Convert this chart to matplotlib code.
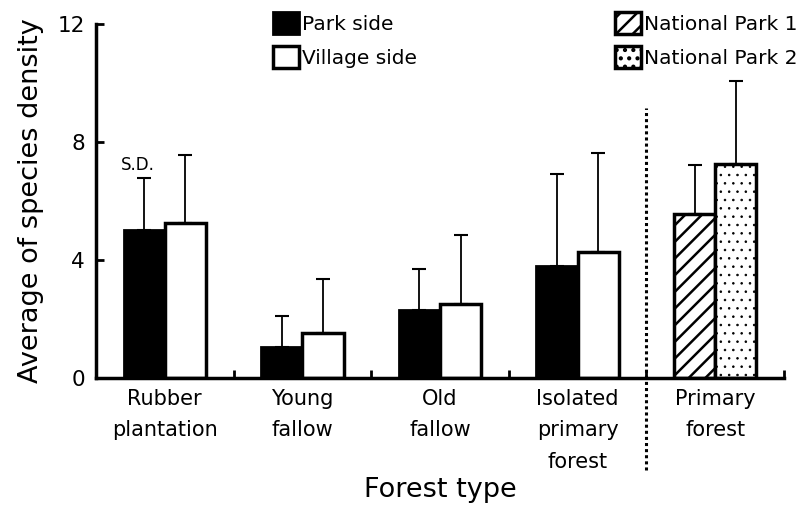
import numpy as np
import matplotlib.pyplot as plt

categories = ['Rubber\nplantation', 'Young\nfallow', 'Old\nfallow', 'Isolated\nprimary\nforest', 'Primary\nforest']
park = [5.03, 1.05, 2.3, 3.8]
park_sd = [1.75, 1.05, 1.4, 3.1]
village = [5.25, 1.52, 2.5, 4.28]
village_sd = [2.31, 1.84, 2.35, 3.35]
national = [5.55, 7.25]
national_sd = [1.67, 2.82]
national_labels = ['National Park 1', 'National Park 2']
national_hatch = ['//', '..']

plt.rcParams['hatch.linewidth'] = 1.8
plt.rcParams['font.family'] = 'DejaVu Sans'

fig = plt.figure(figsize=(8.08, 5.07), dpi=100)
ax = fig.add_axes([96/808, 1-378/507, (784-96)/808, (378-24)/507])

w = 0.3
x = np.arange(len(park))
ekw = dict(elinewidth=1.3, capsize=5, capthick=1.5, ecolor='black')
ax.bar(x - w/2, park, w, color='black', edgecolor='black', linewidth=2,
       yerr=[np.zeros(len(park)), park_sd], error_kw=ekw, label='Park side')
ax.bar(x + w/2, village, w, color='white', edgecolor='black', linewidth=2.5,
       yerr=[np.zeros(len(village)), village_sd], error_kw=ekw, label='Village side')
for i in range(2):
    b = ax.bar(4 + (i - 0.5) * w, national[i], w, color='white', edgecolor='black', linewidth=2.5,
               hatch=national_hatch[i], yerr=[[0], [national_sd[i]]], error_kw=ekw,
               label=national_labels[i])
    if i == 1 and hasattr(b[0], 'set_hatch_linewidth'):
        b[0].set_hatch_linewidth(0.6)

# S.D. note over the first bar
ax.text(-w/2 - 0.045, park[0] + park_sd[0] + 0.15, 'S.D.', ha='center', va='bottom', fontsize=12)

ax.axvline(3.5, ymin=-0.26, ymax=0.763, color='black', linestyle=(0, (1, 1)), lw=2.2, clip_on=False)

ax.set_xlim(-0.5, 4.5)
ax.set_ylim(0, 12)
ax.set_yticks([0, 4, 8, 12])
ax.set_xticks(range(5))
ax.set_xticklabels(categories, fontsize=15, linespacing=1.7, va='top')
ax.set_xticks(np.arange(0.5, 5, 1), minor=True)
ax.tick_params(axis='x', which='major', length=0, pad=8)
ax.tick_params(axis='x', which='minor', direction='in', length=6, width=2)
ax.tick_params(axis='y', direction='in', length=6, width=2, labelsize=15.5, pad=8)
for s in ['top', 'right']:
    ax.spines[s].set_visible(False)
for s in ['left', 'bottom']:
    ax.spines[s].set_linewidth(2.5)

ax.set_ylabel('Average of species density', fontsize=19.5, labelpad=10)
ax.set_xlabel('Forest type', fontsize=19.5, labelpad=4)

h, l = ax.get_legend_handles_labels()
lkw = dict(loc='upper left', frameon=False, fontsize=14.5, handlelength=1.29, handleheight=1.29,
           handletextpad=0.15, labelspacing=0.6, borderaxespad=0, borderpad=0)
leg1 = ax.legend(h[:2], l[:2], bbox_to_anchor=(0.257, 1.034), **lkw)
ax.add_artist(leg1)
leg2 = ax.legend(h[2:], l[2:], bbox_to_anchor=(0.754, 1.034), **lkw)

fig.savefig('out.png', dpi=100)
